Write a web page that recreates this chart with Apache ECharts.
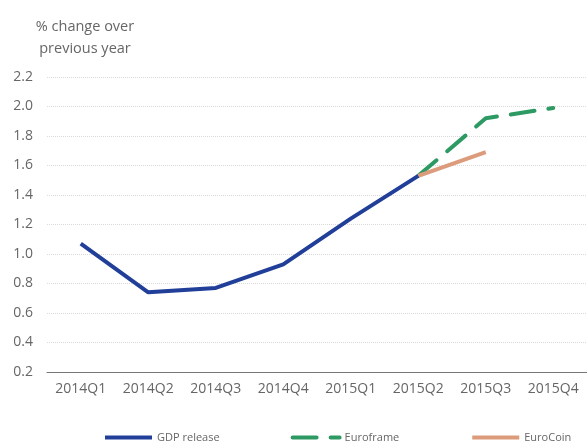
<!DOCTYPE html>
<html>
<head>
<meta charset="utf-8">
<script src="https://cdn.jsdelivr.net/npm/echarts@6/dist/echarts.min.js"></script>
<style>
  html, body { margin: 0; padding: 0; background: #fff; }
  #chart { width: 587px; height: 443px; }
</style>
</head>
<body>
<div id="chart"></div>
<script>
// quarters on the x axis
var quarters = ['2014Q1', '2014Q2', '2014Q3', '2014Q4', '2015Q1', '2015Q2', '2015Q3', '2015Q4']
// % change over previous year
var gdpRelease = [1.07, 0.74, 0.77, 0.93, 1.24, 1.53, null, null]
var euroframe = [null, null, null, null, null, 1.53, 1.92, 1.99]
var euroCoin = [null, null, null, null, null, 1.53, 1.69, null]

var grey = '#666'
var font = 'Open Sans, Lato, sans-serif'

var chart = echarts.init(document.getElementById('chart'))
chart.setOption({
  animation: false,
  textStyle: { fontFamily: font },
  title: {
    text: '% change over\nprevious year',
    left: 80,
    top: 11,
    textAlign: 'center',
    textStyle: { fontSize: 14.5, fontWeight: 'normal', color: grey, lineHeight: 22, fontFamily: font }
  },
  grid: { left: 47, right: -7, top: 77, bottom: 71 },
  legend: {
    left: 98,
    top: 427,
    width: 500,
    itemWidth: 47,
    itemHeight: 14,
    itemGap: 71,
    itemStyle: { opacity: 0 },
    lineStyle: { width: 4 },
    textStyle: { fontSize: 11, color: grey, fontFamily: font },
    data: ['GDP release', 'Euroframe', 'EuroCoin']
  },
  xAxis: {
    type: 'category',
    data: quarters,
    boundaryGap: true,
    axisLine: { lineStyle: { color: '#777', width: 1 } },
    axisTick: { show: false },
    axisLabel: { color: grey, fontSize: 14, margin: 10, fontFamily: font }
  },
  yAxis: {
    type: 'value',
    min: 0.2,
    max: 2.2,
    interval: 0.2,
    axisLine: { show: false },
    axisTick: { show: false },
    axisLabel: {
      color: grey, fontSize: 14, margin: 14, fontFamily: font,
      formatter: function (v) { return v.toFixed(1) }
    },
    splitLine: { lineStyle: { color: '#d9d9d9', type: 'dotted', width: 1 } }
  },
  series: [
    {
      name: 'GDP release',
      type: 'line',
      data: gdpRelease,
      symbol: 'none',
      color: '#213f99',
      lineStyle: { color: '#213f99', width: 4 },
      z: 3
    },
    {
      name: 'Euroframe',
      type: 'line',
      data: euroframe,
      symbol: 'none',
      color: '#2e9a63',
      lineStyle: { color: '#2e9a63', width: 4, type: [24, 14], cap: 'round' },
      z: 2
    },
    {
      name: 'EuroCoin',
      type: 'line',
      data: euroCoin,
      symbol: 'none',
      color: '#dc9b7b',
      lineStyle: { color: '#dc9b7b', width: 4 },
      z: 2
    }
  ]
})
</script>
</body>
</html>
